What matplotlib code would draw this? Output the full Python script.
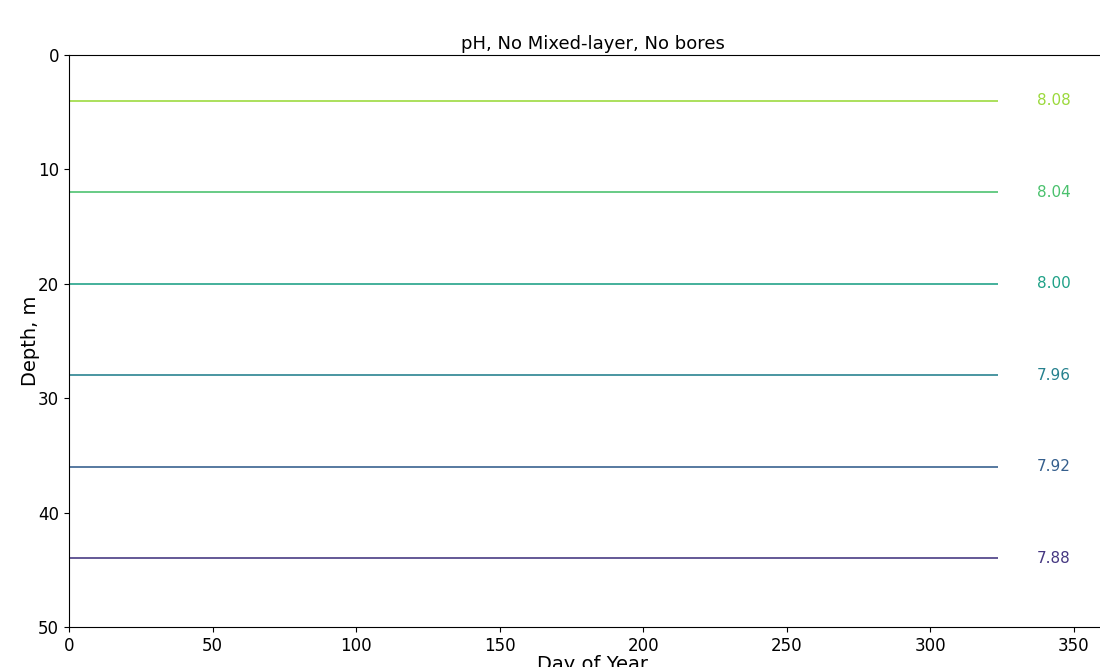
import numpy as np
import matplotlib
matplotlib.use("Agg")
import matplotlib.pyplot as plt

# pH contour levels and the depth (m) at which each one sits
ph_levels = [7.88, 7.92, 7.96, 8.00, 8.04, 8.08]
level_depths = [44, 36, 28, 20, 12, 4]
day_start, day_end = 0, 323.5

cmap = plt.get_cmap("viridis")
colors = [cmap(v) for v in np.linspace(0.16, 0.85, len(ph_levels))]

fig = plt.figure(figsize=(11, 6.67), dpi=100)
# axes runs a little past the right edge of the figure, as in the reference
ax = fig.add_axes([0.0627, 0.06, 0.9527, 0.8575])

for level, depth, color in zip(ph_levels, level_depths, colors):
    ax.hlines(depth, day_start, day_end, colors=[color], linewidth=1.3, alpha=0.9)
    ax.text(343, depth, f"{level:.2f}", color=color,
            fontsize=11, ha="center", va="center")

ax.set_xlim(0, 365)
ax.set_ylim(50, 0)
ax.set_xticks([0, 50, 100, 150, 200, 250, 300, 350])
ax.set_yticks([0, 10, 20, 30, 40, 50])
ax.tick_params(labelsize=12)
ax.set_title("pH, No Mixed-layer, No bores", fontsize=13, pad=4)
ax.set_xlabel("Day of Year", fontsize=14, labelpad=0)
ax.set_ylabel("Depth, m", fontsize=14, labelpad=-1)

fig.savefig("out.png", dpi=100)
